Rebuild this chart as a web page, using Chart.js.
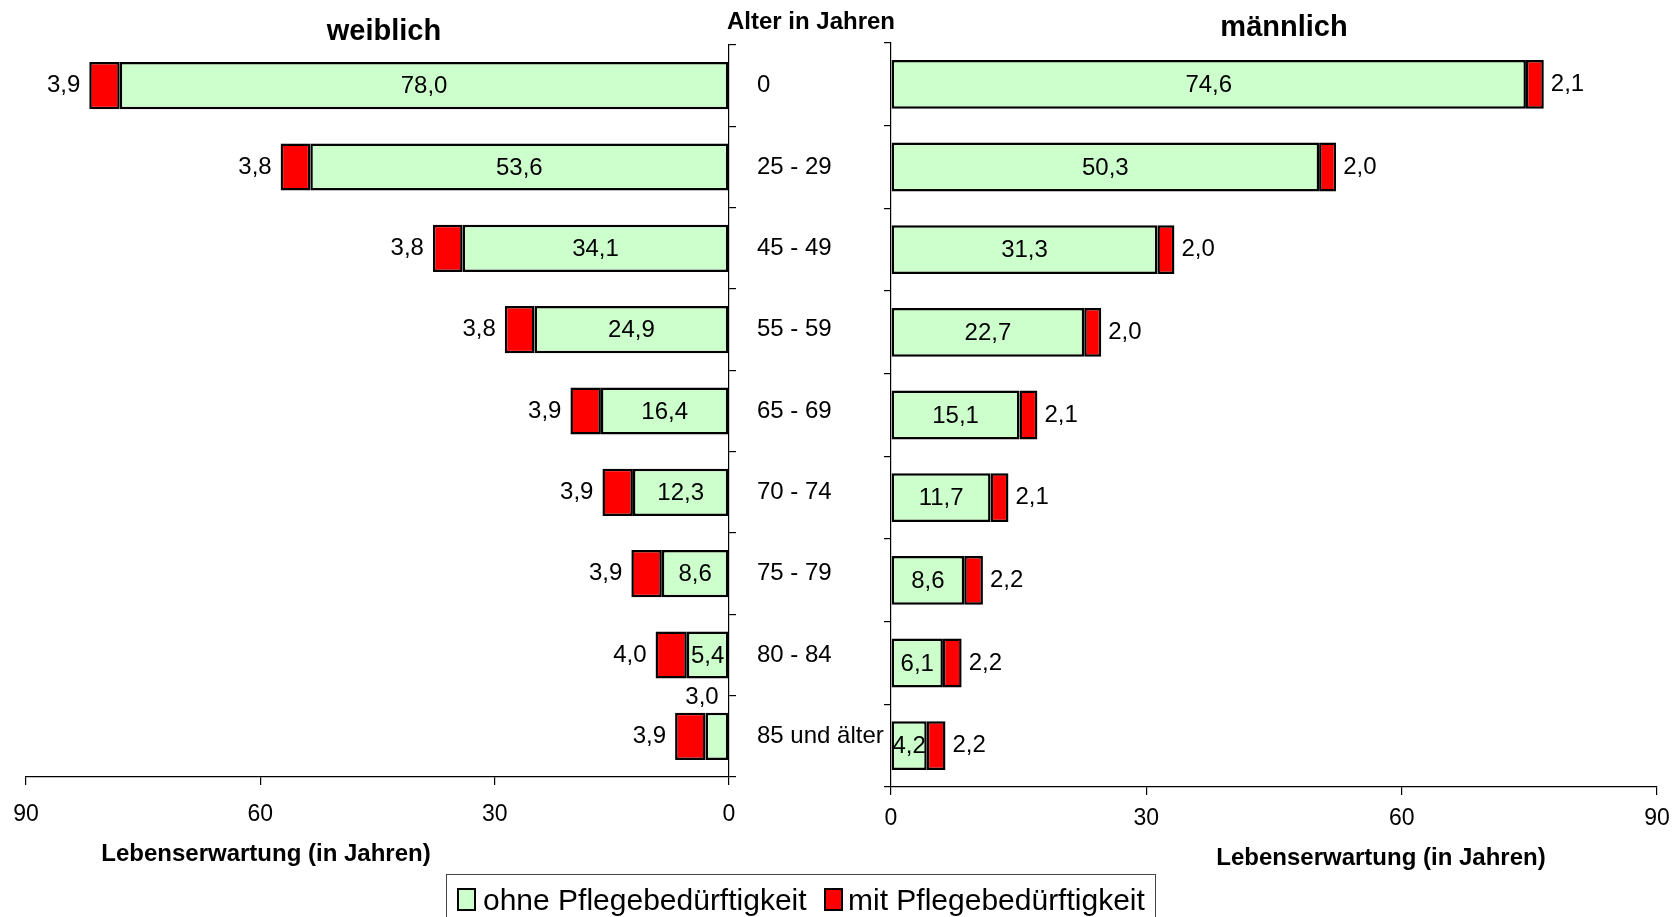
<!DOCTYPE html>
<html>
<head>
<meta charset="utf-8">
<script src="https://cdn.jsdelivr.net/npm/chart.js@4.4.1/dist/chart.umd.min.js"></script>
<style>
  html, body { margin: 0; padding: 0; background: #fff; }
  body { width: 1675px; height: 917px; position: relative; overflow: hidden;
         font-family: "Liberation Sans", Arial, sans-serif; color: #000; }
  canvas { position: absolute; left: 0; top: 0; }
  .txt { position: absolute; white-space: nowrap; transform: translate(-50%, -50%); font-weight: bold; }
  .legend { position: absolute; left: 446px; top: 874px; width: 710px; height: 60px;
            border: 1px solid #444; box-sizing: border-box; font-size: 30px; }
  .legend span { position: absolute; top: 8px; }
  .sw { position: absolute; top: 13px; width: 19px; height: 23px; border: 2px solid #000; box-sizing: border-box; }
</style>
</head>
<body>
<canvas id="left" width="1675" height="917"></canvas>
<canvas id="right" width="1675" height="917"></canvas>

<div class="txt" style="left:384px;top:30px;font-size:29px;">weiblich</div>
<div class="txt" style="left:1284px;top:26px;font-size:29px;">männlich</div>
<div class="txt" style="left:811px;top:21px;font-size:24px;">Alter in Jahren</div>
<div class="txt" style="left:266px;top:853px;font-size:24px;">Lebenserwartung (in Jahren)</div>
<div class="txt" style="left:1381px;top:857px;font-size:24px;">Lebenserwartung (in Jahren)</div>

<div class="legend">
  <div class="sw" style="left:10px;background:#ccffcc;"></div>
  <span style="left:36px;">ohne Pflegebedürftigkeit</span>
  <div class="sw" style="left:377px;background:#ff0000;"></div>
  <span style="left:401px;">mit Pflegebedürftigkeit</span>
</div>

<script>
// Remaining life expectancy by age group, with / without need of care.
const ageGroups = ["0", "25 - 29", "45 - 49", "55 - 59", "65 - 69", "70 - 74", "75 - 79", "80 - 84", "85 und älter"];
const femaleWithout = [78.0, 53.6, 34.1, 24.9, 16.4, 12.3, 8.6, 5.4, 3.0];
const femaleWith = [3.9, 3.8, 3.8, 3.8, 3.9, 3.9, 3.9, 4.0, 3.9];
const maleWithout = [74.6, 50.3, 31.3, 22.7, 15.1, 11.7, 8.6, 6.1, 4.2];
const maleWith = [2.1, 2.0, 2.0, 2.0, 2.1, 2.1, 2.2, 2.2, 2.2];
const xMax = 90;
const xStep = 30;

const GREEN = "#ccffcc";
const RED = "#ff0000";
const FONT = "'Liberation Sans', Arial, sans-serif";

const fmt = (v) => v.toFixed(1).replace(".", ",");

// Values inside the green segment, care years outside the bar end.
const valueLabels = {
  id: "valueLabels",
  afterDatasetsDraw(chart, args, opts) {
    const c = chart.ctx;
    const dir = opts.side === "left" ? -1 : 1;
    c.save();
    c.font = `24px ${FONT}`;
    c.fillStyle = "#000";
    c.textBaseline = "middle";
    chart.getDatasetMeta(0).data.forEach((bar, i) => {
      const v = chart.data.datasets[0].data[i];
      const { x, y, base, height } = bar.getProps(["x", "y", "base", "height"], true);
      const cx = (x + base) / 2;
      c.textAlign = "center";
      if (v < 4) {
        // too narrow: put the number above the bar
        c.fillText(fmt(v), cx + dir * 15, y - height / 2 - 15);
      } else {
        c.fillText(fmt(v), cx, y + 1);
      }
    });
    chart.getDatasetMeta(1).data.forEach((bar, i) => {
      const v = chart.data.datasets[1].data[i];
      const { x, y } = bar.getProps(["x", "y"], true);
      c.textAlign = dir < 0 ? "right" : "left";
      c.fillText(fmt(v), x + dir * (dir < 0 ? 9 : 7), y);
    });
    c.restore();
  },
};

function makeChart(id, without, withCare, side) {
  const isLeft = side === "left";
  return new Chart(document.getElementById(id), {
    type: "bar",
    plugins: [valueLabels],
    data: {
      labels: ageGroups,
      datasets: [
        { label: "ohne Pflegebedürftigkeit", data: without, backgroundColor: GREEN },
        { label: "mit Pflegebedürftigkeit", data: withCare, backgroundColor: RED },
      ].map((d) => ({
        ...d,
        borderColor: "#000",
        borderWidth: 2.5,
        borderSkipped: false,
        categoryPercentage: 1,
        barPercentage: isLeft ? 0.58 : 0.59,
      })),
    },
    options: {
      indexAxis: "y",
      responsive: false,
      animation: false,
      layout: {
        padding: isLeft
          ? { left: 26, right: 746, top: 45, bottom: 90 }
          : { left: 881, right: 18, top: 43, bottom: 80 },
      },
      plugins: {
        legend: { display: false },
        tooltip: { enabled: false },
        valueLabels: { side },
      },
      scales: {
        x: {
          type: "linear",
          min: 0,
          max: xMax,
          reverse: isLeft,
          stacked: true,
          position: "bottom",
          // labels pushed down through the line height, so the tick padding
          // does not widen the side margins
          ticks: {
            stepSize: xStep, color: "#000", padding: 0,
            font: { size: 23, family: FONT, lineHeight: isLeft ? 2.56 : 2.02 },
          },
          grid: { drawOnChartArea: false, drawTicks: true, tickLength: 8, color: "#000", lineWidth: 1.2 },
          border: { display: true, color: "#000", width: 1.2 },
          afterFit: (s) => { s.height = 50; },
        },
        y: {
          type: "category",
          position: isLeft ? "right" : "left",
          stacked: true,
          ticks: { display: isLeft, color: "#000", font: { size: 24, family: FONT }, padding: 21 },
          grid: { drawOnChartArea: false, drawTicks: true, tickLength: 7, color: "#000", lineWidth: 1.2, offset: true },
          border: { display: true, color: "#000", width: 1.2 },
          afterFit: (s) => { s.width = isLeft ? 200 : 10; },
        },
      },
    },
  });
}

makeChart("left", femaleWithout, femaleWith, "left");
makeChart("right", maleWithout, maleWith, "right");
</script>
</body>
</html>
